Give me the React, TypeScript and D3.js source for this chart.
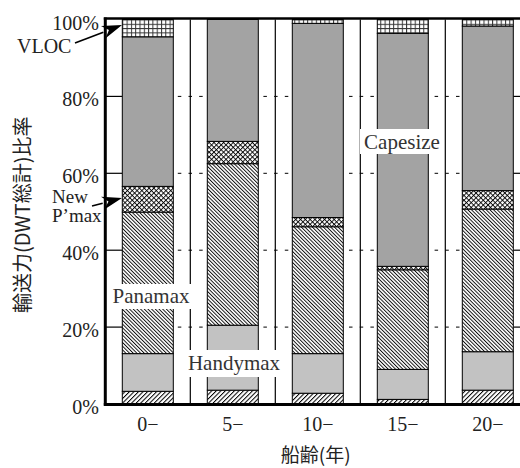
import React from "react";
import * as d3 from "d3";

// Age bands of the fleet and share of total DWT (%) by ship class
const categories = ["0−", "5−", "10−", "15−", "20−"];
const handysize = [3.3, 3.6, 2.8, 1.2, 3.6];
const handymax = [9.8, 16.9, 10.3, 7.8, 10.0];
const panamax = [36.8, 42.0, 33.0, 25.9, 37.1];
const newPanamax = [6.7, 5.8, 2.4, 0.9, 4.8];
const capesize = [38.9, 31.7, 50.5, 60.6, 42.8];
const vloc = [4.5, 0, 1.0, 3.6, 1.7];
const yTicks = [0, 20, 40, 60, 80, 100];
const seriesKeys = ["handysize", "handymax", "panamax", "newPanamax", "capesize", "vloc"];

const W = 520;
const H = 468;
const left = 105.3;
const right = 530.3;
const top = 19.5;
const bottom = 404;

const serif = "'Liberation Serif', 'Noto Sans CJK JP', serif";
const cjk = "'Noto Sans CJK JP', 'Liberation Serif', serif";

const fills: Record<string, string> = {
  handysize: "url(#hatchFwd)",
  handymax: "#c2c2c2",
  panamax: "url(#hatchBack)",
  newPanamax: "url(#crossHatch)",
  capesize: "#a3a3a3",
  vloc: "url(#gridFill)",
};

function Arrow({ x1, y1, x2, y2 }: { x1: number; y1: number; x2: number; y2: number }) {
  const ang = Math.atan2(y2 - y1, x2 - x1);
  const len = 20;
  const half = 6.5;
  const bx = x2 - len * Math.cos(ang);
  const by = y2 - len * Math.sin(ang);
  const px = -Math.sin(ang) * half;
  const py = Math.cos(ang) * half;
  const nx = x2 - (len - 6) * Math.cos(ang);
  const ny = y2 - (len - 6) * Math.sin(ang);
  return (
    <g>
      <line x1={x1} y1={y1} x2={bx} y2={by} stroke="#000" strokeWidth={1.6} />
      <polygon
        points={`${x2},${y2} ${bx + px},${by + py} ${nx},${ny} ${bx - px},${by - py}`}
        fill="#000"
      />
    </g>
  );
}

export default function App() {
  const rows = categories.map((c, i) => ({
    cat: c,
    handysize: handysize[i],
    handymax: handymax[i],
    panamax: panamax[i],
    newPanamax: newPanamax[i],
    capesize: capesize[i],
    vloc: vloc[i],
  }));
  const stacked = d3.stack<any>().keys(seriesKeys)(rows);

  const x = d3
    .scaleBand<string>()
    .domain(categories)
    .range([left, right])
    .paddingInner(0.4)
    .paddingOuter(0.2);
  const y = d3.scaleLinear().domain([0, 100]).range([bottom, top]);
  const bw = x.bandwidth();
  const gapMid = (x.step() - bw) / 2;

  const firstLeft = x(categories[0])!;
  const lastRight = x(categories[categories.length - 1])! + bw;

  return (
    <svg width={W} height={H} style={{ position: "absolute", left: 0, top: 0, background: "#fff" }}>
      <defs>
        <pattern id="hatchFwd" patternUnits="userSpaceOnUse" width={3.2} height={3.2} patternTransform="rotate(45)">
          <rect width={3.2} height={3.2} fill="#fff" />
          <line x1={0.5} y1={0} x2={0.5} y2={3.2} stroke="#000" strokeWidth={1} />
        </pattern>
        <pattern id="hatchBack" patternUnits="userSpaceOnUse" width={2.6} height={2.6} patternTransform="rotate(-45)">
          <rect width={2.6} height={2.6} fill="#fff" />
          <line x1={0.5} y1={0} x2={0.5} y2={2.6} stroke="#000" strokeWidth={0.9} />
        </pattern>
        <pattern id="crossHatch" patternUnits="userSpaceOnUse" width={3.4} height={3.4} patternTransform="rotate(45)">
          <rect width={3.4} height={3.4} fill="#fff" />
          <line x1={0.5} y1={0} x2={0.5} y2={3.4} stroke="#000" strokeWidth={0.9} />
          <line x1={0} y1={0.5} x2={3.4} y2={0.5} stroke="#000" strokeWidth={0.9} />
        </pattern>
        <pattern id="gridFill" patternUnits="userSpaceOnUse" width={4.3} height={4.3} x={firstLeft} y={top}>
          <rect width={4.3} height={4.3} fill="#fff" />
          <line x1={0.5} y1={0} x2={0.5} y2={4.3} stroke="#333" strokeWidth={1} />
          <line x1={0} y1={0.5} x2={4.3} y2={0.5} stroke="#333" strokeWidth={1} />
        </pattern>
      </defs>

      {/* gridlines: solid ticks at the axes, dashed across the interior */}
      {yTicks
        .filter((t) => t > 0 && t < 100)
        .map((t) => (
          <g key={t}>
            <line x1={left} x2={firstLeft} y1={y(t)} y2={y(t)} stroke="#000" strokeWidth={1.2} />
            <line x1={lastRight} x2={right} y1={y(t)} y2={y(t)} stroke="#000" strokeWidth={1.2} />
            <line
              x1={firstLeft}
              x2={lastRight}
              y1={y(t)}
              y2={y(t)}
              stroke="#000"
              strokeWidth={1}
              strokeDasharray="3.5 7.2"
              strokeDashoffset={-2}
            />
          </g>
        ))}

      {/* separators between age bands */}
      {categories.slice(0, -1).map((c) => (
        <line
          key={c}
          x1={x(c)! + bw + gapMid}
          x2={x(c)! + bw + gapMid}
          y1={top}
          y2={bottom}
          stroke="#000"
          strokeWidth={1.2}
        />
      ))}

      {/* stacked bars */}
      {stacked.map((s) => (
        <g key={s.key}>
          {s.map((d: any, i: number) => {
            const h = y(d[0]) - y(d[1]);
            if (h <= 0) return null;
            return (
              <rect
                key={i}
                x={x(categories[i])}
                y={y(d[1])}
                width={bw}
                height={h}
                fill={fills[s.key]}
                stroke="#000"
                strokeWidth={1}
              />
            );
          })}
        </g>
      ))}

      {/* plot frame */}
      <line x1={left} x2={left} y1={top - 2} y2={bottom + 1.5} stroke="#000" strokeWidth={3} />
      <line x1={left - 1.5} x2={right} y1={top - 1} y2={top - 1} stroke="#000" strokeWidth={2.6} />
      <line x1={left - 1.5} x2={right} y1={bottom + 0.5} y2={bottom + 0.5} stroke="#000" strokeWidth={3} />
      <line x1={right} x2={right} y1={top} y2={bottom} stroke="#000" strokeWidth={3} />

      {/* in-plot class labels */}
      <rect x={360} y={129} width={83} height={25} fill="#fff" />
      <text x={402} y={149} textAnchor="middle" fontFamily={serif} fontSize={21} fill="#333">
        Capesize
      </text>
      <rect x={108} y={284} width={83} height={25} fill="#fff" />
      <text x={151} y={303} textAnchor="middle" fontFamily={serif} fontSize={21} fill="#333">
        Panamax
      </text>
      <rect x={185} y={350} width={97} height={27} fill="#fff" />
      <text x={234} y={370} textAnchor="middle" fontFamily={serif} fontSize={21} fill="#333">
        Handymax
      </text>

      {/* y tick labels */}
      {yTicks.map((t) => (
        <text key={t} x={99} y={y(t) + 10} textAnchor="end" fontFamily={serif} fontSize={20} fill="#222">
          {t}%
        </text>
      ))}

      {/* x tick labels */}
      {categories.map((c) => (
        <text key={c} x={x(c)! + bw / 2} y={431} textAnchor="middle" fontFamily={serif} fontSize={20} fill="#222">
          {c}
        </text>
      ))}

      {/* axis titles */}
      <text x={(left + right) / 2 - 2} y={462} textAnchor="middle" fontFamily={cjk} fontSize={19} fill="#222">
        船齢(年)
      </text>
      <text
        transform={`translate(30, ${(top + bottom) / 2 + 3}) rotate(-90)`}
        textAnchor="middle"
        fontFamily={cjk}
        fontSize={20}
        fill="#222"
      >
        輸送力(DWT総計)比率
      </text>

      {/* callouts */}
      <text x={17} y={53} fontFamily={serif} fontSize={20} fill="#222">
        VLOC
      </text>
      <Arrow x1={75} y1={43} x2={122} y2={25} />
      <text x={52} y={203} fontFamily={serif} fontSize={19} fill="#222">
        New
      </text>
      <text x={52} y={222} fontFamily={serif} fontSize={19} fill="#222">
        P’max
      </text>
      <Arrow x1={92} y1={206} x2={122} y2={198} />
    </svg>
  );
}
